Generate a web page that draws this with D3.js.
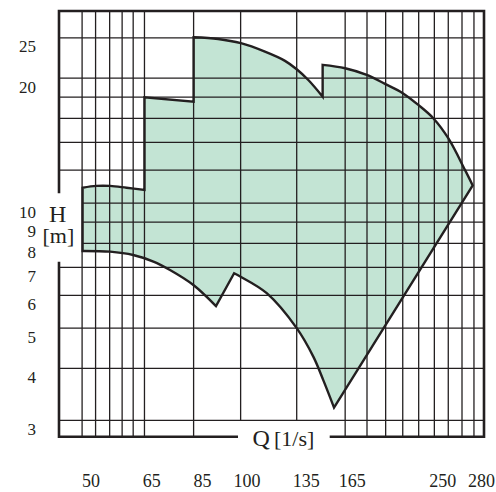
<!DOCTYPE html>
<html>
<head>
<meta charset="utf-8">
<script src="https://cdn.jsdelivr.net/npm/d3@7"></script>
<style>
  body { margin: 0; background: #fff; }
  text { font-family: "Liberation Serif", "Times New Roman", serif; fill: #231f20; }
</style>
</head>
<body>
<svg width="496" height="492"></svg>
<script>

// axis values (pump range chart, non-uniform log Q axis, log H axis)
const qGrid = [48.1, 51.0, 54.2, 57.2, 60.0, 63.0, 81.1, 97.7, 128.6, 160.0, 176.6, 192.4, 208.1, 223.9, 240.6, 254.1, 264.5, 273.9];
const hGrid = [25, 20, 18, 16, 14, 12, 10, 9, 8, 7, 6, 5, 4, 3];
const qTicks = [50, 65, 85, 100, 135, 165, 250, 280];
const hTicks = [25, 20, 10, 9, 8, 7, 6, 5, 4, 3];

// envelope outline, [Q, H] pieces in drawing order
const leftEdge   = [[48.2, 7.67], [48.2, 10.89]];
const leftTop    = [[48.2, 10.89], [51.2, 11.0], [54.3, 11.0], [58.3, 10.89], [63.0, 10.76]];
const steps      = [[63.0, 10.76], [63.0, 17.98], [81.1, 17.55], [81.1, 25.08]];
const midTop     = [[81.1, 25.08], [90.0, 24.84], [97.8, 24.26], [109.5, 23.15], [121.2, 22.0], [128.6, 21.0], [136.2, 19.78], [145.0, 18.04]];
const notchUp    = [[145.0, 18.04], [145.0, 21.51]];
const rightTop   = [[145.0, 21.51], [160.0, 21.12], [176.4, 20.35], [191.8, 19.36], [208.1, 18.39], [223.5, 17.23], [239.4, 16.01], [254.1, 14.33], [266.8, 12.02], [272.9, 11.03]];
const rightEdge  = [[272.9, 11.03], [152.4, 3.22]];
const lowRight   = [[152.4, 3.22], [145.4, 3.75], [139.2, 4.27], [128.6, 5.0], [110.5, 6.07], [97.7, 6.65], [95.4, 6.78]];
const spike      = [[95.4, 6.78], [89.3, 5.65]];
const lowLeft    = [[89.3, 5.65], [81.0, 6.35], [71.6, 6.9], [65.6, 7.23], [60.0, 7.5], [54.3, 7.64], [48.2, 7.67]];

const svg = d3.select('svg');

const plotLeft = 59, plotRight = 484, plotTop = 11, plotBottom = 436.7;

// Q axis is hand-drawn: piecewise log through the labelled values
const qStops = [43.5, ...qTicks, 282];
const xStops = [plotLeft, 91, 151.7, 202.5, 247, 306.3, 352.2, 442.7, 481.5, plotRight];
const x = d3.scaleLog().domain(qStops).range(xStops);
const y = d3.scaleLog().domain([2.74, 29]).range([plotBottom, plotTop]);

// gaps in the frame for the axis titles
const hGap = [192, 263];
const qGap = [236.7, 331];

// fill + outline
const pieces = [
    {pts: leftEdge, curve: false},
    {pts: leftTop, curve: true},
    {pts: steps, curve: false},
    {pts: midTop, curve: true},
    {pts: notchUp, curve: false},
    {pts: rightTop, curve: true},
    {pts: rightEdge, curve: false},
    {pts: lowRight, curve: true},
    {pts: spike, curve: false},
    {pts: lowLeft, curve: true}
];

let d = '';
pieces.forEach((p, i) => {
    const line = d3.line()
        .x(v => x(v[0]))
        .y(v => y(v[1]))
        .curve(p.curve ? d3.curveCatmullRom.alpha(0.5) : d3.curveLinear);
    let s = line(p.pts);
    if (i > 0) s = 'L' + s.slice(1);
    d += s;
});
d += 'Z';

svg.append('path')
    .attr('d', d)
    .attr('fill', '#c3e4d4')
    .attr('stroke', 'none');

// grid
svg.selectAll('line.v')
    .data(qGrid)
    .enter()
    .append('line')
        .attr('class', 'v')
        .attr('x1', d => x(d))
        .attr('x2', d => x(d))
        .attr('y1', plotTop)
        .attr('y2', d => (x(d) > qGap[0] && x(d) < qGap[1]) ? y(3) : plotBottom)
        .attr('stroke', '#231f20')
        .attr('stroke-width', 1.3);

svg.selectAll('line.h')
    .data(hGrid)
    .enter()
    .append('line')
        .attr('class', 'h')
        .attr('x1', d => (y(d) > hGap[0] && y(d) < hGap[1]) ? x(qGrid[0]) : plotLeft)
        .attr('x2', plotRight)
        .attr('y1', d => y(d))
        .attr('y2', d => y(d))
        .attr('stroke', '#231f20')
        .attr('stroke-width', 1.3);

// outline on top of grid
svg.append('path')
    .attr('d', d)
    .attr('fill', 'none')
    .attr('stroke', '#231f20')
    .attr('stroke-width', 2.4)
    .attr('stroke-linejoin', 'miter');

// frame
const frame = d3.path();
frame.moveTo(plotLeft, hGap[0]);
frame.lineTo(plotLeft, plotTop);
frame.lineTo(plotRight, plotTop);
frame.lineTo(plotRight, plotBottom);
frame.lineTo(qGap[1], plotBottom);
frame.moveTo(qGap[0], plotBottom);
frame.lineTo(plotLeft, plotBottom);
frame.lineTo(plotLeft, hGap[1]);

svg.append('path')
    .attr('d', frame.toString())
    .attr('fill', 'none')
    .attr('stroke', '#231f20')
    .attr('stroke-width', 2.6)
    .attr('stroke-linecap', 'square');

// tick labels
svg.selectAll('text.yt')
    .data(hTicks)
    .enter()
    .append('text')
        .attr('class', 'yt')
        .attr('x', 36)
        .attr('y', d => y(d) + 14.5)
        .attr('text-anchor', 'end')
        .attr('font-size', 17)
        .text(d => d);

svg.selectAll('text.xt')
    .data(qTicks)
    .enter()
    .append('text')
        .attr('class', 'xt')
        .attr('x', d => x(d))
        .attr('y', 486.5)
        .attr('text-anchor', 'middle')
        .attr('font-size', 18)
        .text(d => d);

// axis titles
svg.append('text').attr('x', 49).attr('y', 221.7).attr('font-size', 24).text('H');
svg.append('text').attr('x', 42.5).attr('y', 243.3).attr('font-size', 22).text('[m]');
svg.append('text').attr('x', 252.5).attr('y', 446).attr('font-size', 24).text('Q');
svg.append('text').attr('x', 274).attr('y', 446).attr('font-size', 22).text('[1/s]');

</script>
</body>
</html>
